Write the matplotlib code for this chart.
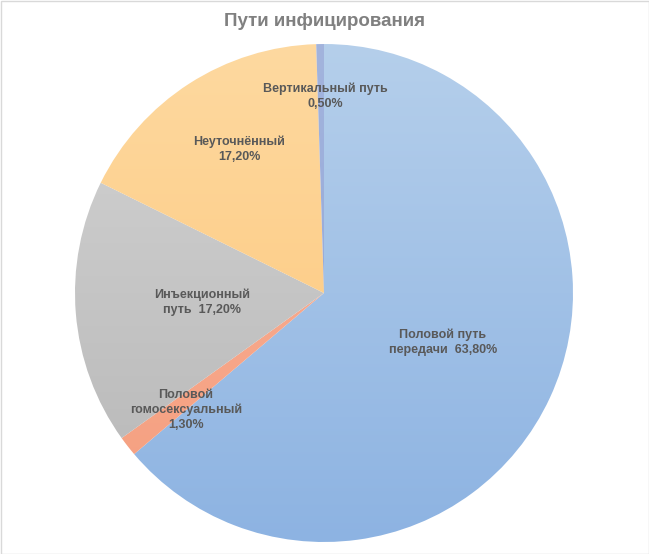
import matplotlib
matplotlib.use("Agg")
import matplotlib.pyplot as plt
import numpy as np
from matplotlib.colors import LinearSegmentedColormap
from matplotlib.patches import Rectangle

plt.rcParams['font.family'] = ['Liberation Sans', 'DejaVu Sans']

title = "Пути инфицирования"
categories = ["Половой путь\nпередачи", "Половой\nгомосексуальный", "Инъекционный\nпуть", "Неуточнённый", "Вертикальный путь"]
values = [63.8, 1.3, 17.2, 17.2, 0.5]
label_texts = ["Половой путь\nпередачи  63,80%", "Половой\nгомосексуальный\n1,30%",
               "Инъекционный\nпуть  17,20%", "Неуточнённый\n17,20%", "Вертикальный путь\n0,50%"]
grad_top = ["#b5cfeb", "#f9b39a", "#d4d4d4", "#fed9a0", "#a3b4dd"]
grad_bot = ["#8db3e2", "#f59e7e", "#b6b6b6", "#fcc577", "#8ea3d6"]

W, H = 649, 554
fig = plt.figure(figsize=(W/100, H/100), dpi=100)
ax = fig.add_axes([0, 0, 1, 1])

cx, cy, r = 324, H - 293, 249
wedges, _ = ax.pie(values, center=(cx, cy), radius=r, startangle=90,
                   counterclock=False, frame=True,
                   wedgeprops=dict(linewidth=0))

grad = np.linspace(0, 1, 256).reshape(-1, 1)
for w, ct, cb in zip(wedges, grad_top, grad_bot):
    w.set_facecolor('none')
    cmap = LinearSegmentedColormap.from_list('g', [ct, cb])
    im = ax.imshow(grad, cmap=cmap, extent=(cx - r, cx + r, cy - r, cy + r),
                   origin='upper', aspect='auto', zorder=1)
    im.set_clip_path(w)

ax.set_xlim(0, W)
ax.set_ylim(0, H)
ax.set_aspect('equal')
ax.axis('off')

label_pos = [(443, 342), (186, 410), (202, 302), (239, 149), (325, 96)]
for t, (x, y) in zip(label_texts, label_pos):
    ax.text(x, H - y, t, ha='center', va='center', fontsize=9, fontweight='bold',
            color='#595959', linespacing=1.3, zorder=5)

ax.text(W/2, H - 21, title, ha='center', va='center', fontsize=13.5, fontweight='bold',
        color='#808080', zorder=5)

ax.add_patch(Rectangle((0.5, 0.5), W - 1, H - 1, fill=False, edgecolor='#d9d9d9', linewidth=1, zorder=6))

fig.savefig("out.png", dpi=100)
